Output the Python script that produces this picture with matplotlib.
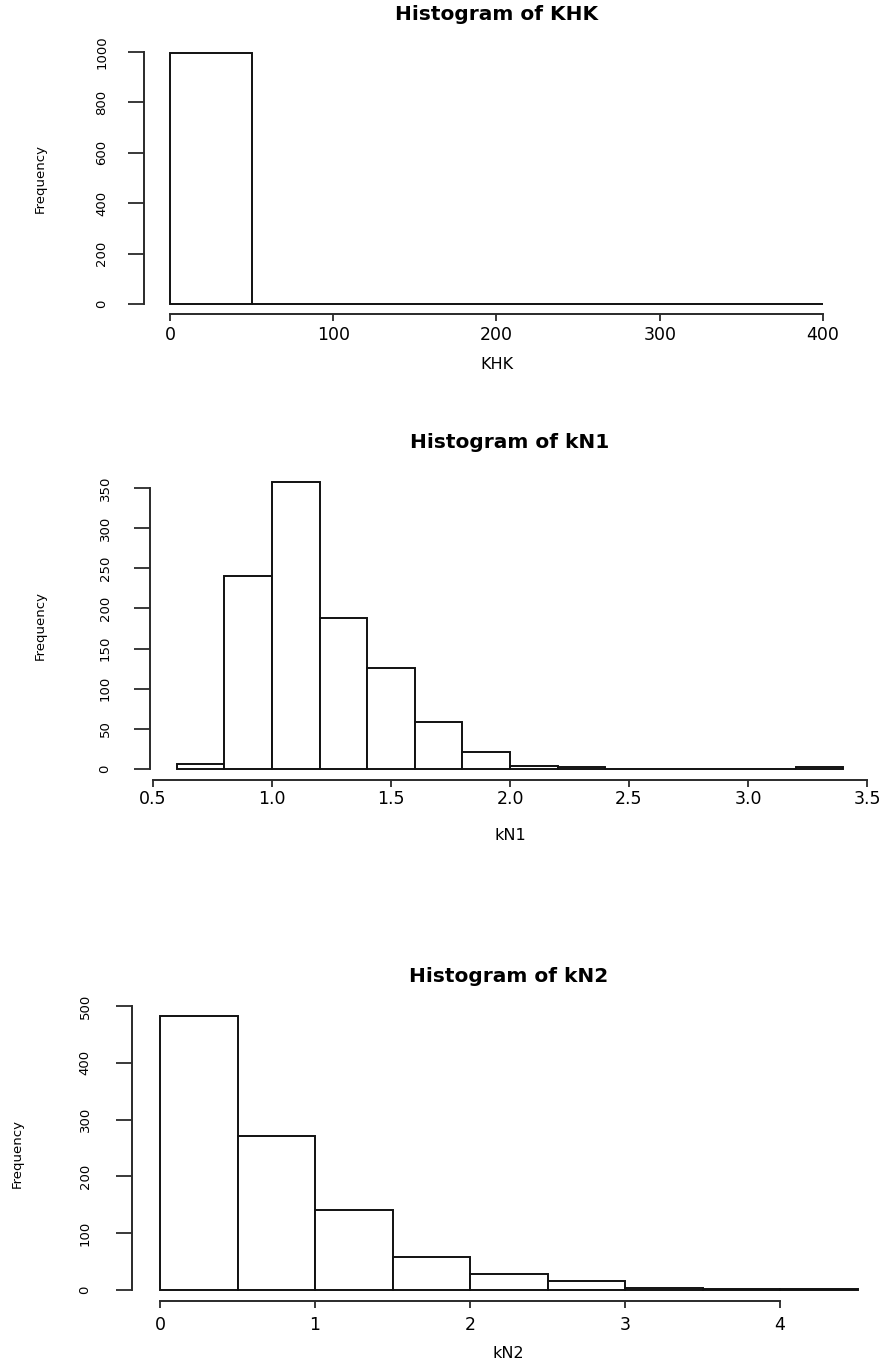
import matplotlib.pyplot as plt
import numpy as np

plt.rcParams['font.family'] = ['DejaVu Sans']

W, H = 886, 1363

# counts (R style, 1000 draws each)
khk_edges = np.arange(0, 401, 50)
khk_counts = [995, 1, 1, 1, 0, 1, 0, 1]
khk_xticks = [0, 100, 200, 300, 400]
khk_yticks = [0, 200, 400, 600, 800, 1000]

kn1_edges = np.round(np.arange(0.6, 3.41, 0.2), 1)
kn1_counts = [6, 241, 357, 188, 126, 58, 21, 4, 3, 0, 0, 0, 0, 2]
kn1_xticks = [0.5, 1.0, 1.5, 2.0, 2.5, 3.0, 3.5]
kn1_yticks = [0, 50, 100, 150, 200, 250, 300, 350]

kn2_edges = np.arange(0, 4.51, 0.5)
kn2_counts = [482, 272, 141, 58, 29, 15, 3, 2, 1]
kn2_xticks = [0, 1, 2, 3, 4]
kn2_yticks = [0, 100, 200, 300, 400, 500]

names = ['KHK', 'kN1', 'kN2']

# pixel layout: (x of first tick, x of last tick, y of 0, y of top tick)
anchors = [(170, 823, 304, 52), (153, 867, 769, 488), (160, 780, 1290, 1006)]
# pixel centres of: ylabel x, ytick label x, xtick label y, xlabel y, title y
text_pos = [(40, 102, 335, 364, 15), (40, 105, 799, 835, 442), (17, 85, 1325, 1353, 977)]

fig = plt.figure(figsize=(W / 100, H / 100), dpi=100)


def r_hist(edges, counts, xticks, yticks, name, anchor, tpos, fmt):
    x0, x1, y0, y1 = anchor
    a, b = edges[0], edges[-1]
    xlo, xhi = a - 0.04 * (b - a), b + 0.04 * (b - a)
    ymax = max(counts)
    ylo, yhi = -0.04 * ymax, 1.04 * ymax
    sx = (x1 - x0) / (xticks[-1] - xticks[0])
    left = x0 - (xticks[0] - xlo) * sx
    right = x0 + (xhi - xticks[0]) * sx
    sy = (y0 - y1) / yticks[-1]
    bottom = y0 - ylo * sy
    top = y0 - yhi * sy
    ax = fig.add_axes([left / W, 1 - bottom / H, (right - left) / W, (bottom - top) / H])
    wpx, hpx = right - left, bottom - top

    ax.bar(edges[:-1], counts, width=np.diff(edges), align='edge',
           facecolor='white', edgecolor='#111111', linewidth=1.4)
    ax.set_xlim(xlo, xhi)
    ax.set_ylim(ylo, yhi)

    for s in ['top', 'right']:
        ax.spines[s].set_visible(False)
    for s in ['left', 'bottom']:
        ax.spines[s].set_linewidth(1.4)
        ax.spines[s].set_color('#2a2a2a')
    ax.spines['left'].set_bounds(yticks[0], yticks[-1])
    ax.spines['bottom'].set_bounds(xticks[0], xticks[-1])

    ylab_x, ytl_x, xtl_y, xlab_y, title_y = tpos
    ax.set_xticks(xticks, [fmt(v) for v in xticks], va='center', fontsize=12.5)
    ax.set_yticks(yticks, [str(v) for v in yticks], rotation=90, va='center',
                  ha='center', fontsize=9.5)
    ax.tick_params(axis='y', length=16 * 0.72, width=1.3, color='#2a2a2a',
                   pad=(left - 16 - ytl_x) * 0.72)
    ax.tick_params(axis='x', length=7 * 0.72, width=1.3, color='#2a2a2a',
                   pad=(xtl_y - bottom - 7) * 0.72)

    ax.set_ylabel('Frequency', fontsize=9.5, va='center')
    ax.yaxis.set_label_coords((ylab_x - left) / wpx, 0.5)
    ax.set_xlabel(name, fontsize=11.5, va='center')
    ax.xaxis.set_label_coords(0.5, (bottom - xlab_y) / hpx)
    ax.set_title(f'Histogram of {name}', fontweight='bold', fontsize=14.5,
                 y=(bottom - title_y) / hpx, pad=0, va='center')
    return ax


r_hist(khk_edges, khk_counts, khk_xticks, khk_yticks, names[0],
       anchors[0], text_pos[0], lambda v: f'{v:d}')
r_hist(kn1_edges, kn1_counts, kn1_xticks, kn1_yticks, names[1],
       anchors[1], text_pos[1], lambda v: f'{v:.1f}')
r_hist(kn2_edges, kn2_counts, kn2_xticks, kn2_yticks, names[2],
       anchors[2], text_pos[2], lambda v: f'{v:d}')

fig.savefig('out.png', dpi=100)
